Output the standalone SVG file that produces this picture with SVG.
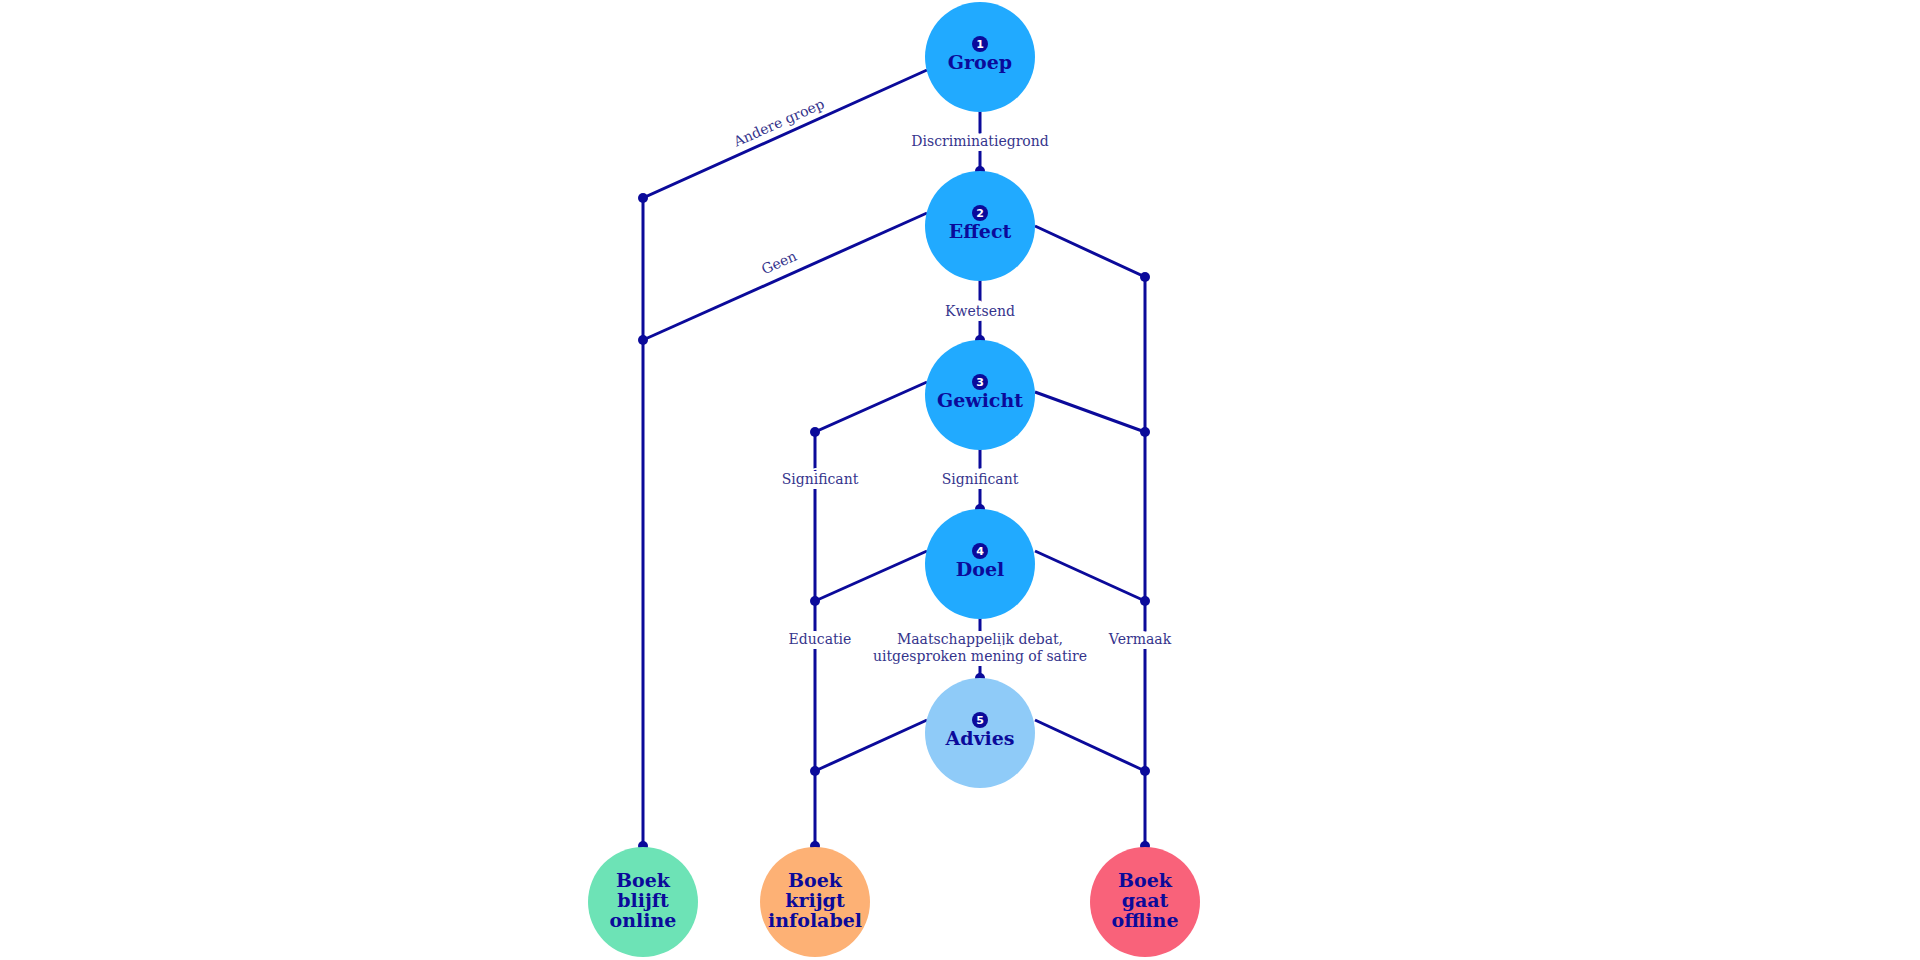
<svg xmlns="http://www.w3.org/2000/svg" width="1920" height="960" viewBox="0 0 1920 960">
<style>
.ln{stroke:#0b0a9a;stroke-width:3;fill:none}
.dot{fill:#0b0a9a}
.lbl{font-family:"DejaVu Serif","Liberation Serif",serif;font-size:14px;fill:#35348c;text-anchor:middle;paint-order:stroke;stroke:#fff;stroke-width:10px;stroke-linejoin:round}
.t{font-family:"DejaVu Serif","Liberation Serif",serif;font-weight:bold;font-size:19px;fill:#0b0a9a;text-anchor:middle}
.n{font-family:"DejaVu Sans",sans-serif;font-weight:bold;font-size:11px;fill:#fff;text-anchor:middle}
</style>
<rect width="1920" height="960" fill="#fff"/>
<g id="connectors">
<path class="ln" d="M927 70 L643 198 L643 846"/>
<path class="ln" d="M927 213 L643 340"/>
<path class="ln" d="M1035 226 L1145 277 L1145 846"/>
<path class="ln" d="M927 382 L815 432 L815 846"/>
<path class="ln" d="M1035 392 L1145 432"/>
<path class="ln" d="M927 551 L815 601"/>
<path class="ln" d="M1035 551 L1145 601"/>
<path class="ln" d="M927 720 L815 771"/>
<path class="ln" d="M1035 720 L1145 771"/>
<path class="ln" d="M980 110 V171 M980 280 V340 M980 449 V509 M980 618 V678"/>
<g class="dot">
<circle cx="643" cy="198" r="5"/><circle cx="643" cy="340" r="5"/><circle cx="1145" cy="277" r="5"/>
<circle cx="815" cy="432" r="5"/><circle cx="1145" cy="432" r="5"/><circle cx="815" cy="601" r="5"/><circle cx="1145" cy="601" r="5"/>
<circle cx="815" cy="771" r="5"/><circle cx="1145" cy="771" r="5"/>
<circle cx="643" cy="846" r="5"/><circle cx="815" cy="846" r="5"/><circle cx="1145" cy="846" r="5"/>
<circle cx="980" cy="171" r="5"/><circle cx="980" cy="340" r="5"/><circle cx="980" cy="509" r="5"/><circle cx="980" cy="678" r="5"/>
</g>
<text class="lbl" x="980" y="146">Discriminatiegrond</text>
<text class="lbl" x="980" y="316">Kwetsend</text>
<text class="lbl" x="980" y="484">Significant</text>
<text class="lbl" x="820" y="484">Significant</text>
<text class="lbl" x="820" y="644">Educatie</text>
<text class="lbl" x="1140" y="644">Vermaak</text>
<text class="lbl" x="980" y="644">Maatschappelijk debat,</text>
<text class="lbl" x="980" y="661">uitgesproken mening of satire</text>
<text class="lbl" x="781" y="127" transform="rotate(-24 781 127)" style="stroke:none">Andere groep</text>
<text class="lbl" x="781" y="267" transform="rotate(-24 781 267)" style="stroke:none">Geen</text>
</g>
<g id="n1"><circle cx="980" cy="57" r="55" fill="#21aaff"/><circle cx="980" cy="44" r="8" fill="#0b0a9a"/><text class="n" x="980" y="48">1</text><text class="t" x="980" y="69">Groep</text></g>
<g id="n2"><circle cx="980" cy="226" r="55" fill="#21aaff"/><circle cx="980" cy="213" r="8" fill="#0b0a9a"/><text class="n" x="980" y="217">2</text><text class="t" x="980" y="238">Effect</text></g>
<g id="n3"><circle cx="980" cy="395" r="55" fill="#21aaff"/><circle cx="980" cy="382" r="8" fill="#0b0a9a"/><text class="n" x="980" y="386">3</text><text class="t" x="980" y="407">Gewicht</text></g>
<g id="n4"><circle cx="980" cy="564" r="55" fill="#21aaff"/><circle cx="980" cy="551" r="8" fill="#0b0a9a"/><text class="n" x="980" y="555">4</text><text class="t" x="980" y="576">Doel</text></g>
<g id="n5"><circle cx="980" cy="733" r="55" fill="#8fcbf8"/><circle cx="980" cy="720" r="8" fill="#0b0a9a"/><text class="n" x="980" y="724">5</text><text class="t" x="980" y="745">Advies</text></g>
<g id="o1"><circle cx="643" cy="902" r="55" fill="#6de3b6"/><text class="t" x="643" y="887">Boek</text><text class="t" x="643" y="907">blijft</text><text class="t" x="643" y="927">online</text></g>
<g id="o2"><circle cx="815" cy="902" r="55" fill="#fdb175"/><text class="t" x="815" y="887">Boek</text><text class="t" x="815" y="907">krijgt</text><text class="t" x="815" y="927">infolabel</text></g>
<g id="o3"><circle cx="1145" cy="902" r="55" fill="#f9627a"/><text class="t" x="1145" y="887">Boek</text><text class="t" x="1145" y="907">gaat</text><text class="t" x="1145" y="927">offline</text></g>
</svg>
